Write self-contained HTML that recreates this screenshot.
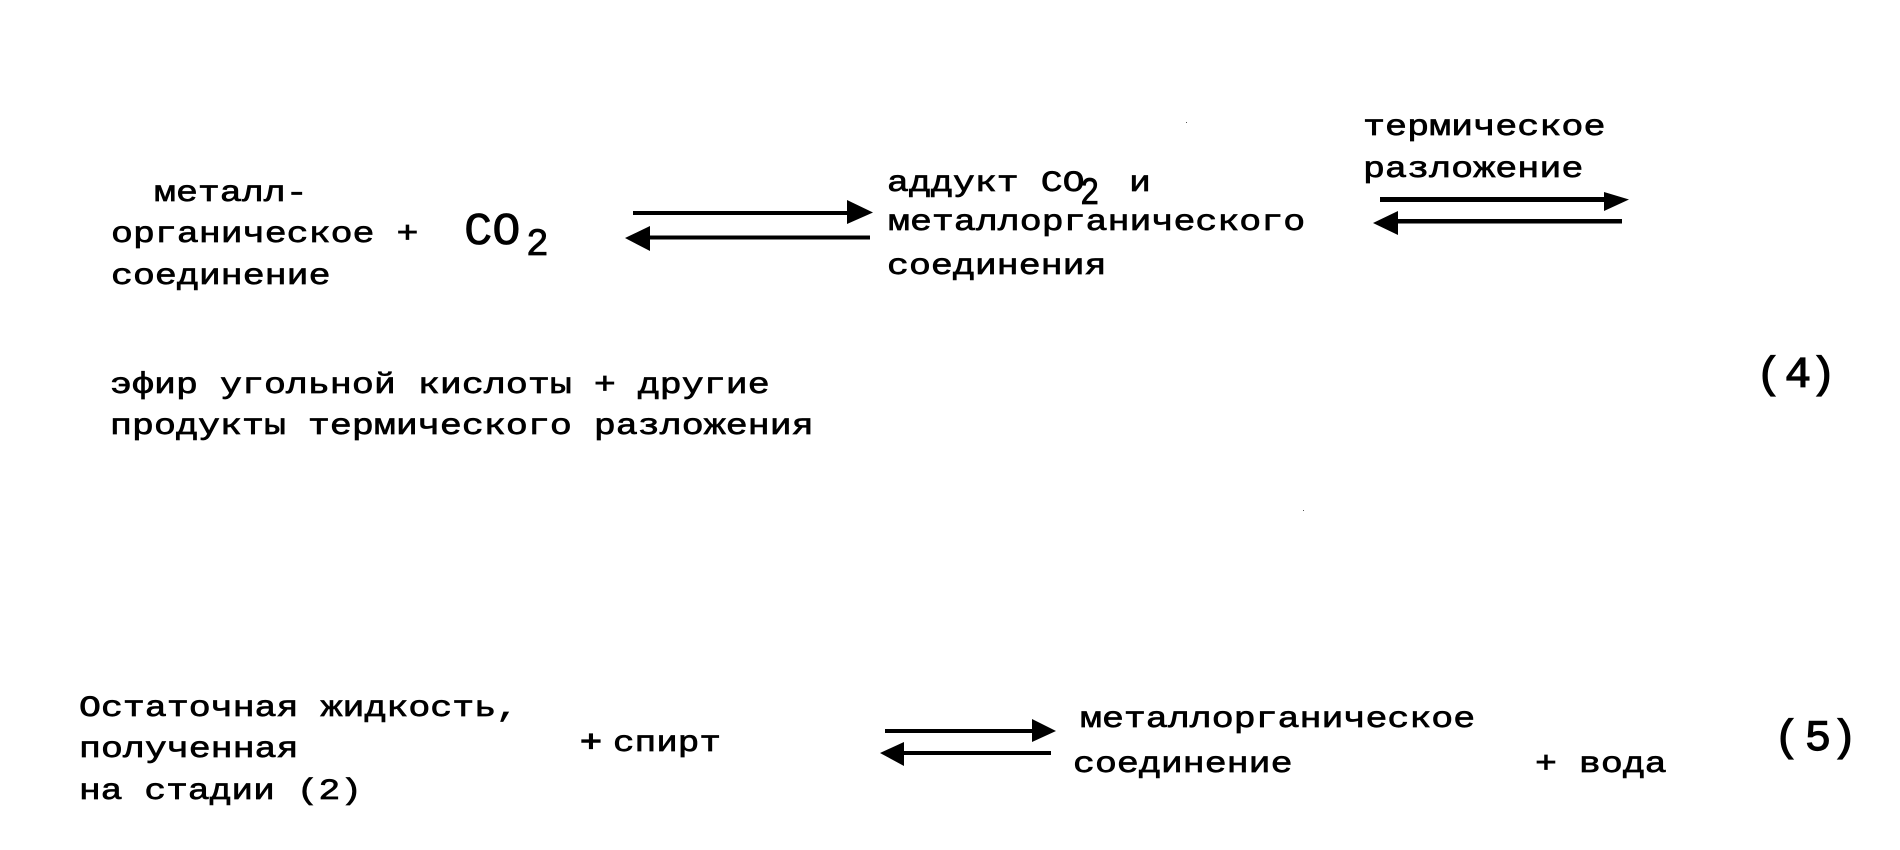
<!DOCTYPE html>
<html lang="ru">
<head>
<meta charset="utf-8">
<style>
html,body{margin:0;padding:0;background:#fff;width:1900px;height:850px;overflow:hidden}
svg{display:block}
text{font-family:"Liberation Mono","DejaVu Sans Mono",monospace;fill:#000;stroke:#000;stroke-width:.7px;font-size:30px;white-space:pre}
</style>
</head>
<body>
<svg width="1900" height="850" viewBox="0 0 1900 850" xmlns="http://www.w3.org/2000/svg">
<rect width="1900" height="850" fill="#fff"/>

<text transform="translate(154,201) scale(1.22,1)">металл-</text>
<text transform="translate(111,242) scale(1.22,1)">органическое +</text>
<text transform="translate(111,284) scale(1.22,1)">соединение</text>
<text transform="translate(464,244) scale(1.07,1.04)" style="font-size:44px">CO</text>
<text transform="translate(526,255) scale(1,1.03)" style="font-size:38px">2</text>

<text transform="translate(110,393) scale(1.222,1)">эфир угольной кислоты + другие</text>
<text transform="translate(110,434) scale(1.222,1)">продукты термического разложения</text>

<text transform="translate(887,191) scale(1.22,1)">аддукт CO</text>
<text transform="translate(1080,204) scale(.9,1.08)" style="font-size:36px">2</text>
<text transform="translate(1129,191) scale(1.22,1)">и</text>
<text transform="translate(888,230) scale(1.22,1)">металлорганического</text>
<text transform="translate(887,274) scale(1.22,1)">соединения</text>

<text transform="translate(1363,135) scale(1.225,1)">термическое</text>
<text transform="translate(1363,177) scale(1.225,1)">разложение</text>

<text text-anchor="middle" x="1769" y="387" style="font-size:44px;stroke-width:1.2px">(</text>
<text text-anchor="middle" x="1798" y="387" style="font-size:44px;stroke-width:1.2px">4</text>
<text text-anchor="middle" x="1823" y="387" style="font-size:44px;stroke-width:1.2px">)</text>

<text transform="translate(79,716) scale(1.22,1)">Остаточная жидкость,</text>
<text transform="translate(79,757) scale(1.22,1)">полученная</text>
<text transform="translate(79,799) scale(1.21,1)">на стадии (2)</text>

<text transform="translate(580,751) scale(1.22,1)" style="stroke-width:1.2px">+</text>
<text transform="translate(613,751) scale(1.2,1)">спирт</text>

<text transform="translate(1080,727) scale(1.22,1)">металлорганическое</text>
<text transform="translate(1073,772) scale(1.22,1)">соединение</text>
<text transform="translate(1535,772) scale(1.22,1)">+ вода</text>

<text text-anchor="middle" x="1787" y="750" style="font-size:44px;stroke-width:1.2px">(</text>
<text text-anchor="middle" x="1818" y="750" style="font-size:44px;stroke-width:1.2px">5</text>
<text text-anchor="middle" x="1844" y="750" style="font-size:44px;stroke-width:1.2px">)</text>

<!-- arrows group 1 -->
<rect x="633" y="211" width="222" height="4"/>
<polygon points="847,200 873,212.5 847,224"/>
<rect x="648" y="235.5" width="222" height="4"/>
<polygon points="650,226 625,238 650,251"/>

<!-- arrows group 2 -->
<rect x="1380" y="197" width="230" height="5"/>
<polygon points="1604,192 1629,199.5 1604,211"/>
<rect x="1396" y="219" width="226" height="4.5"/>
<polygon points="1398,211 1373,223 1398,235"/>

<!-- arrows group 3 -->
<rect x="885" y="729" width="152" height="4"/>
<polygon points="1032,719 1056,731 1032,742"/>
<rect x="901" y="751" width="150" height="4"/>
<polygon points="904,742 880,753 904,766"/>

<rect x="1186" y="122" width="1" height="1" fill="#555"/>
<rect x="1303" y="510" width="1" height="1" fill="#555"/>
</svg>
</body>
</html>
